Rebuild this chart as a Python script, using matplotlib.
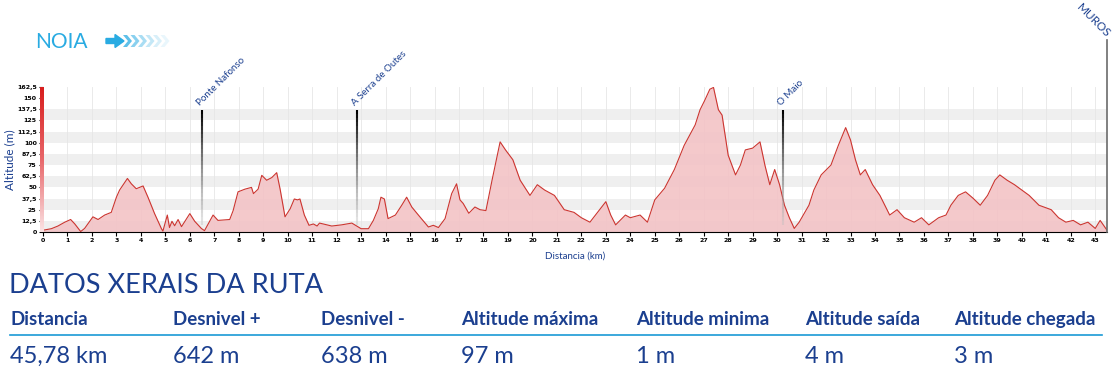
"""Elevation profile Noia - Muros with route summary table."""

import matplotlib.pyplot as plt
import numpy as np
from matplotlib.collections import LineCollection
from matplotlib.colors import LinearSegmentedColormap
from matplotlib.patches import Polygon

# profile (km, m)
km = [0.0, 0.34, 0.61, 0.89, 1.13, 1.3, 1.54, 1.7, 2.04, 2.25, 2.52, 2.79, 3.0, 3.13, 3.3,
      3.45, 3.61, 3.81, 4.09, 4.29, 4.56, 4.84, 4.9, 5.08, 5.17, 5.27, 5.38, 5.52, 5.66, 6.0,
      6.2, 6.47, 6.6, 6.95, 7.15, 7.63, 7.77, 7.97, 8.25, 8.52, 8.6, 8.79, 8.94, 9.14, 9.35,
      9.55, 9.69, 9.89, 10.1, 10.27, 10.4, 10.5, 10.68, 10.87, 11.05, 11.2, 11.3, 11.8, 12.2,
      12.62, 12.8, 13.0, 13.3, 13.5, 13.7, 13.81, 13.95, 14.1, 14.4, 14.66, 14.86, 15.07,
      15.34, 15.75, 15.95, 16.16, 16.43, 16.7, 16.9, 17.04, 17.17, 17.4, 17.65, 17.86, 18.1,
      18.35, 18.68, 18.9, 19.2, 19.5, 19.9, 20.2, 20.5, 20.9, 21.3, 21.7, 22.0, 22.35, 22.8,
      23.0, 23.2, 23.4, 23.8, 24.0, 24.4, 24.7, 25.0, 25.4, 25.8, 26.2, 26.65, 26.85, 27.05,
      27.25, 27.4, 27.6, 27.75, 28.0, 28.3, 28.5, 28.7, 29.0, 29.3, 29.5, 29.7, 29.9, 30.1,
      30.3, 30.5, 30.7, 30.9, 31.3, 31.5, 31.8, 32.2, 32.5, 32.8, 33.0, 33.2, 33.4, 33.6,
      33.9, 34.2, 34.6, 34.9, 35.2, 35.6, 35.9, 36.2, 36.6, 36.9, 37.1, 37.4, 37.7, 38.0,
      38.3, 38.6, 38.9, 39.1, 39.4, 39.7, 40.0, 40.3, 40.7, 41.2, 41.5, 41.8, 42.1, 42.4,
      42.7, 43.0, 43.2, 43.48]
alt = [2, 3.7, 6.7, 11, 14, 9, 0.5, 4, 17, 14, 19, 22, 39, 47, 54,
       60, 54, 48.5, 51.6, 39, 20.6, 3.7, 1, 19, 5, 12, 7, 14, 6, 20.6,
       12, 4, 1.5, 19, 13, 14, 24, 45, 48, 50, 43, 48, 63.5, 58, 61,
       66.5, 48, 17, 26, 37, 36, 37, 19, 7.5, 9, 6.7, 10, 6.7, 8,
       10, 7, 3.7, 3.7, 13, 26, 39, 37, 15, 19, 30, 39, 28,
       19, 5.6, 7.5, 5, 15, 43, 54, 36, 32, 21, 28, 25, 24,
       58, 101, 92, 81, 58, 41, 53, 47, 41, 25, 22, 16, 11, 27,
       34, 19, 8, 19, 16, 19, 11, 36, 49, 70, 97, 120, 137, 148,
       160, 162, 137, 131, 86, 64, 75, 92, 94, 101, 75, 53, 70, 53,
       30, 16, 4, 11, 30, 47, 64, 75, 97, 117, 103, 81, 64, 70,
       53, 41, 19, 25, 16, 11, 16, 8, 16, 19, 30, 41, 45, 38,
       30, 41, 58, 64, 58, 53, 47, 41, 30, 25, 16, 11, 13, 8,
       11, 4, 13, 2]

places = ["Ponte Nafonso", "A Serra de Outes", "O Maio"]
place_km = [6.5, 12.83, 30.24]
end_place = "MUROS"
end_km = 43.48

y_ticks = [0, 12.5, 25, 37.5, 50, 62.5, 75, 87.5, 100, 112.5, 125, 137.5, 150, 162.5]
x_ticks = list(range(0, 44))

table_title = "DATOS XERAIS DA RUTA"
headers = ["Distancia", "Desnivel +", "Desnivel -", "Altitude máxima",
           "Altitude minima", "Altitude saída", "Altitude chegada"]
values = ["45,78 km", "642 m", "638 m", "97 m", "1 m", "4 m", "3 m"]

blue = "#1b3f8f"
cyan = "#29abe2"
W, H = 1120, 381

fig = plt.figure(figsize=(W / 100, H / 100), dpi=100)
ax = fig.add_axes([43 / W, 1 - 232 / H, 1064 / W, 145 / H])

# horizontal bands
for lo in y_ticks[::2][:-1]:
    ax.axhspan(lo, lo + 12.5, color="#efefef", lw=0, zorder=0)
ax.set_xticks(x_ticks)
ax.grid(axis="x", color="#e6e6e6", lw=0.6, zorder=0.5)
ax.set_axisbelow(True)

ax.fill_between(km, alt, 0, color="#f3c3c6", alpha=0.9, lw=0, zorder=1)
ax.plot(km, alt, color="#cc3530", lw=0.8, zorder=2)

ax.set_xlim(0, end_km)
ax.set_ylim(0, 162.5)
ax.set_yticks(y_ticks)
ax.set_yticklabels([f"{t:g}".replace(".", ",") for t in y_ticks])
ax.tick_params(axis="both", labelsize=4.5, length=3, width=0.8, pad=1.5)
for lab in ax.get_xticklabels() + ax.get_yticklabels():
    lab.set_fontweight("bold")
for s in ["top", "right", "left"]:
    ax.spines[s].set_visible(False)
ax.spines["bottom"].set_linewidth(0.8)
ax.set_ylabel("Altitude (m)", color=blue, fontsize=8.5, family="Lato")
ax.yaxis.set_label_coords(-0.026, 0.5)
ax.set_xlabel("Distancia (km)", color=blue, fontsize=7, family="Lato", labelpad=6)

# red gradient bar on the y axis
bar = fig.add_axes([40 / W, 1 - 232 / H, 4 / W, 145 / H])
grad = np.linspace(1, 0, 100).reshape(-1, 1)
cmap = LinearSegmentedColormap.from_list("r", ["#fbe3e4", "#e8676a", "#d81e1e"])
bar.imshow(grad, aspect="auto", cmap=cmap, origin="upper")
bar.axis("off")


# place markers
def fade_line(x, y0, y1, c0, c1):
    ys = np.linspace(y0, y1, 30)
    segs = [[(x, ys[i]), (x, ys[i + 1])] for i in range(len(ys) - 1)]
    cols = [np.array(c0) * (1 - t) + np.array(c1) * t for t in np.linspace(0, 1, len(segs))]
    ax.add_collection(LineCollection(segs, colors=cols, lw=1.5, zorder=3, clip_on=False))


for name, x in zip(places, place_km):
    fade_line(x, 137, 8, (0, 0, 0, 1), (0.75, 0.75, 0.75, 0.4))
    ax.text(x - 0.1, 141, name, rotation=45, fontsize=7, color=blue, family="Lato",
            ha="left", va="baseline", rotation_mode="anchor", clip_on=False)

ax.plot([end_km, end_km], [0, 215], color="#6b6b6b", lw=1.2, clip_on=False, zorder=3)
ax.text(end_km - 0.05, 217, end_place, rotation=-45, fontsize=8.5, color=blue,
        family="Lato", ha="right", va="baseline", rotation_mode="anchor", clip_on=False)

# NOIA header with arrow
fig.text(35 / W, 1 - 48 / H, "NOIA", color=cyan, fontsize=15, family="Lato",
         ha="left", va="baseline")


def px(pts):
    return [(x / W, 1 - y / H) for x, y in pts]


fig.patches.append(Polygon(px([(106, 38.5), (115, 38.5), (115, 34.5), (124, 41), (115, 47.5),
                               (115, 43.5), (106, 43.5)]), closed=True, color=cyan,
                           transform=fig.transFigure))
for i, a in enumerate([0.75, 0.55, 0.4, 0.28, 0.18, 0.1]):
    x0 = 123 + i * 7.5
    fig.patches.append(Polygon(px([(x0, 35), (x0 + 4, 35), (x0 + 9, 41), (x0 + 4, 47),
                                   (x0, 47), (x0 + 5, 41)]), closed=True, color=cyan,
                               alpha=a, lw=0, transform=fig.transFigure))

# summary table
fig.text(9 / W, 1 - 293 / H, table_title, color=blue, fontsize=19.5, family="Lato",
         ha="left", va="baseline")
col_x = [10, 173, 321, 461, 636, 805, 954]
for x, h, v in zip(col_x, headers, values):
    fig.text(x / W, 1 - 325 / H, h, color=blue, fontsize=13.5, family="Lato",
             fontweight="bold", ha="left", va="baseline")
    fig.text(x / W, 1 - 363 / H, v, color=blue, fontsize=17, family="Lato",
             ha="left", va="baseline")
fig.add_artist(plt.Line2D([10 / W, 1102 / W], [1 - 335 / H, 1 - 335 / H],
                          color="#1a9ad6", lw=1.2, transform=fig.transFigure))

fig.savefig("out.png", dpi=100)
